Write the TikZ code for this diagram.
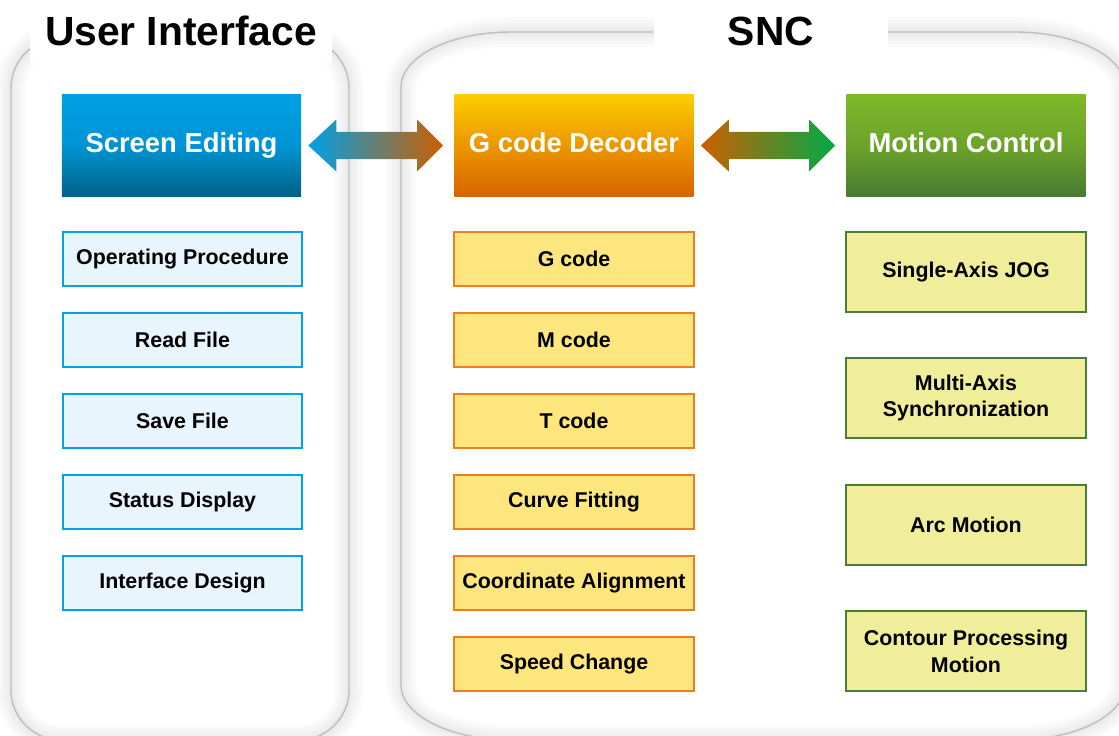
\documentclass[tikz,border=0pt]{standalone}
\usepackage{fontspec}
\setmainfont{Liberation Sans}
\usetikzlibrary{calc}
\definecolor{uiblue}{RGB}{0,160,230}
\definecolor{uimid}{RGB}{0,148,212}
\definecolor{uidark}{RGB}{0,98,135}
\definecolor{uifill}{RGB}{232,245,252}
\definecolor{uiline}{RGB}{0,162,232}
\definecolor{gcyellow}{RGB}{252,205,0}
\definecolor{gcmid}{RGB}{236,150,0}
\definecolor{gcorange}{RGB}{215,100,0}
\definecolor{gcfill}{RGB}{254,230,126}
\definecolor{gcline}{RGB}{240,125,30}
\definecolor{mcgreen}{RGB}{125,185,40}
\definecolor{mcmid}{RGB}{108,163,42}
\definecolor{mcdark}{RGB}{72,122,50}
\definecolor{mcfill}{RGB}{240,238,155}
\definecolor{mcline}{RGB}{75,125,50}
\definecolor{arrowgreen}{RGB}{0,170,70}
\definecolor{panelline}{RGB}{190,190,190}
\newcommand\subfont{\fontsize{15.2}{19}\selectfont\bfseries}
\newcommand\roundpanel[7]{%
  \draw[#1] (#2,{#3+#7}) .. controls (#2,{#3+0.448*#7}) and ({#2+0.448*#6},#3) .. ({#2+#6},#3)
    -- ({#4-#6},#3) .. controls ({#4-0.448*#6},#3) and (#4,{#3+0.448*#7}) .. (#4,{#3+#7})
    -- (#4,{#5-#7}) .. controls (#4,{#5-0.448*#7}) and ({#4-0.448*#6},#5) .. ({#4-#6},#5)
    -- ({#2+#6},#5) .. controls ({#2+0.448*#6},#5) and (#2,{#5-0.448*#7}) .. (#2,{#5-#7})
    -- cycle
}
\newcommand\gradarrow[4]{%
  \shade[left color=#3, right color=#4] ($(#1.east)+(7,0)$) -- ($(#1.east)+(35,-26)$)
    -- ($(#1.east)+(35,-13.5)$) -- ($(#2.west)+(-37,-13.5)$) -- ($(#2.west)+(-37,-26)$)
    -- ($(#2.west)+(-11,0)$) -- ($(#2.west)+(-37,26)$) -- ($(#2.west)+(-37,13.5)$)
    -- ($(#1.east)+(35,13.5)$) -- ($(#1.east)+(35,26)$) -- cycle
}
\tikzset{
  title/.style={fill=white, inner sep=0pt, font=\fontsize{29}{34}\selectfont\bfseries},
  header/.style={minimum width=5.975cm, minimum height=2.525cm, inner sep=0pt,
    text height=14pt, text depth=4pt,
    text=white, font=\fontsize{19.5}{23}\selectfont\bfseries},
  subbox/.style={line width=1.4pt, minimum width=5.975cm, minimum height=1.35cm,
    inner sep=0pt, align=center, font=\subfont},
  uibox/.style={subbox, draw=uiline, fill=uifill},
  gcbox/.style={subbox, draw=gcline, fill=gcfill},
  mcbox/.style={subbox, draw=mcline, fill=mcfill, minimum height=2cm}
}
\begin{document}
\begin{tikzpicture}[x=0.025cm, y=-0.025cm]
        \useasboundingbox (0,0) rectangle (1119,736);
        \clip (0,0) rectangle (1119,736);

        % The panels
        \foreach \w in {30,24,18,12,6} {
          \roundpanel{line width=\w*0.7pt, draw=black, draw opacity=0.015}{11}{38}{349}{740}{50}{50};
          \roundpanel{line width=\w*0.7pt, draw=black, draw opacity=0.015}{401}{32}{1125}{740}{110}{55};
        }
        \roundpanel{draw=panelline, line width=1pt}{11}{38}{349}{740}{50}{50};
        \roundpanel{draw=panelline, line width=1pt}{401}{32}{1125}{740}{110}{55};
        \node[title, minimum width=7.55cm, minimum height=1.55cm] (uititle) at (181,31) {User Interface};
        \node[title, minimum width=5.825cm, minimum height=1.5cm] (snctitle) at (771,31) {SNC};

        % The headers
        \node[header, top color=uiblue, bottom color=uidark, middle color=uimid] (screen) at (181.5,145.5) {Screen Editing};
        \node[header, top color=gcyellow, bottom color=gcorange, middle color=gcmid] (decoder) at (574,145.5) {G code Decoder};
        \node[header, top color=mcgreen, bottom color=mcdark, middle color=mcmid] (motion) at (966,145.5) {Motion Control};
        \gradarrow{screen}{decoder}{uiblue}{gcorange!95!black};
        \gradarrow{decoder}{motion}{gcorange!95!black}{arrowgreen};

        % User interface tasks
        \node[uibox] (opproc) at (182.5,259) {Operating Procedure};
        \node[uibox] (readfile) at (182.5,340) {Read File};
        \node[uibox] (savefile) at (182.5,421) {Save File};
        \node[uibox] (status) at (182.5,502) {Status Display};
        \node[uibox] (ifdesign) at (182.5,583) {Interface Design};

        % Decoder tasks
        \node[gcbox] (gcode) at (574,259) {G code};
        \node[gcbox] (mcode) at (574,340) {M code};
        \node[gcbox] (tcode) at (574,421) {T code};
        \node[gcbox] (curvefit) at (574,502) {Curve Fitting};
        \node[gcbox] (coordalign) at (574,583) {Coordinate Alignment};
        \node[gcbox] (speed) at (574,664) {Speed Change};

        % Motion tasks
        \node[mcbox] (jog) at (966,272) {Single-Axis JOG};
        \node[mcbox] (multiaxis) at (966,398) {Multi-Axis\\Synchronization};
        \node[mcbox] (arcmotion) at (966,525) {Arc Motion};
        \node[mcbox] (contour) at (966,651) {Contour Processing\\Motion};
    \end{tikzpicture}
\end{document}
